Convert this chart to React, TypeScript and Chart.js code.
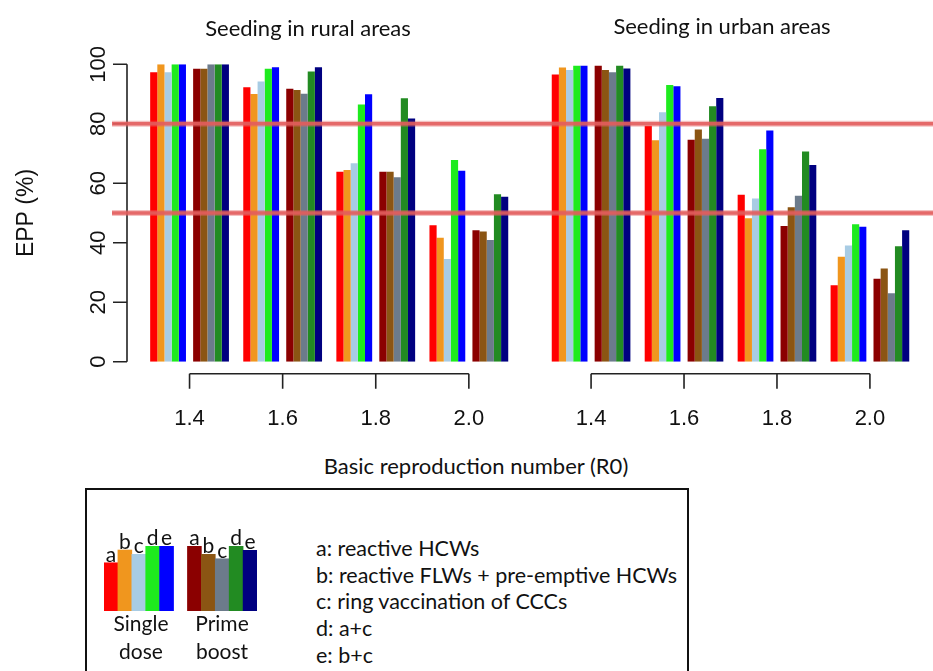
import React, { useEffect, useRef } from "react";
import { Chart, registerables } from "chart.js";
Chart.register(...registerables);

// ---------- data ----------
const r0Labels = ["1.4", "1.6", "1.8", "2.0"];
const yTicks = [0, 20, 40, 60, 80, 100];
const thresholds = [80, 50];
const strategyLetters = ["a", "b", "c", "d", "e"];
const singleColors = ["#FF0000", "#F0961E", "#A8CCE4", "#1EEB1E", "#0000FF"];
const primeColors = ["#8B0000", "#8B5513", "#6C7B8B", "#228B22", "#000080"];

// values per strategy (a..e) across R0 = 1.4, 1.6, 1.8, 2.0
const ruralSingle = [
  [97.3, 92.3, 63.9, 45.9],
  [100, 90.0, 64.5, 41.7],
  [97.3, 94.2, 66.7, 34.5],
  [100, 98.5, 86.5, 67.8],
  [100, 99.0, 89.9, 64.2],
];
const ruralPrime = [
  [98.5, 91.8, 63.9, 44.2],
  [98.5, 91.4, 63.9, 43.8],
  [100, 90.1, 62.0, 40.9],
  [100, 97.6, 88.6, 56.3],
  [100, 99.0, 81.8, 55.5],
];
const urbanSingle = [
  [96.6, 79.3, 56.1, 25.7],
  [98.9, 74.5, 48.2, 35.3],
  [98.1, 83.9, 54.9, 39.1],
  [99.5, 93.0, 71.4, 46.2],
  [99.5, 92.6, 77.7, 45.4],
];
const urbanPrime = [
  [99.5, 74.6, 45.6, 27.9],
  [98.1, 78.1, 51.9, 31.3],
  [97.3, 75.0, 55.8, 23.0],
  [99.5, 85.9, 70.7, 38.8],
  [98.6, 88.7, 66.1, 44.2],
];

// legend miniature bars (relative heights)
const legendSingleHeights = [48, 60.7, 56.4, 64.7, 64.7];
const legendPrimeHeights = [64.7, 56.4, 52, 64.7, 60.4];
const legendDescriptions = [
  "a: reactive HCWs",
  "b: reactive FLWs + pre-emptive HCWs",
  "c: ring vaccination of CCCs",
  "d: a+c",
  "e: b+c",
];

const TICK_FONT = '22px "Liberation Sans", Arial, sans-serif';
const TEXT_FONT = 'Lato, "Open Sans", sans-serif';

function buildDatasets(single: number[][], prime: number[][]) {
  return [
    ...single.map((d, i) => ({
      label: "Single dose " + strategyLetters[i],
      data: d,
      backgroundColor: singleColors[i],
      borderWidth: 0,
    })),
    {
      label: "spacer",
      data: r0Labels.map(() => null),
      backgroundColor: "rgba(0,0,0,0)",
      borderWidth: 0,
    },
    ...prime.map((d, i) => ({
      label: "Prime boost " + strategyLetters[i],
      data: d,
      backgroundColor: primeColors[i],
      borderWidth: 0,
    })),
  ];
}

function BarPanel(props: {
  single: number[][];
  prime: number[][];
  showYAxis: boolean;
  width: number;
  height: number;
  padLeft: number;
  padRight: number;
  redStart: number;
}) {
  const ref = useRef<HTMLCanvasElement | null>(null);
  useEffect(() => {
    const canvas = ref.current;
    if (!canvas) return;
    const axesPlugin = {
      id: "rAxes",
      afterDraw(chart: any) {
        const ctx = chart.ctx as CanvasRenderingContext2D;
        const xs = chart.scales.x;
        const ys = chart.scales.y;
        const area = chart.chartArea;
        ctx.save();
        ctx.strokeStyle = "#222";
        ctx.fillStyle = "#111";
        ctx.lineWidth = 1.6;
        // x axis (R style: from first to last tick)
        const yAx = area.bottom + 12;
        const first = xs.getPixelForTick(0);
        const last = xs.getPixelForTick(r0Labels.length - 1);
        ctx.beginPath();
        ctx.moveTo(first, yAx);
        ctx.lineTo(last, yAx);
        r0Labels.forEach((_, i) => {
          const px = xs.getPixelForTick(i);
          ctx.moveTo(px, yAx);
          ctx.lineTo(px, yAx + 15);
        });
        ctx.stroke();
        ctx.font = TICK_FONT;
        ctx.textAlign = "center";
        ctx.textBaseline = "middle";
        r0Labels.forEach((lab, i) => {
          ctx.fillText(lab, xs.getPixelForTick(i), yAx + 45);
        });
        if (props.showYAxis) {
          const xAx = area.left - 16;
          const top = ys.getPixelForValue(yTicks[yTicks.length - 1]);
          const bot = ys.getPixelForValue(yTicks[0]);
          ctx.beginPath();
          ctx.moveTo(xAx, top);
          ctx.lineTo(xAx, bot);
          yTicks.forEach((v) => {
            const py = ys.getPixelForValue(v);
            ctx.moveTo(xAx, py);
            ctx.lineTo(xAx - 14, py);
          });
          ctx.stroke();
          yTicks.forEach((v) => {
            const py = ys.getPixelForValue(v);
            ctx.save();
            ctx.translate(xAx - 28, py);
            ctx.rotate(-Math.PI / 2);
            ctx.fillText(String(v), 0, 0);
            ctx.restore();
          });
          ctx.save();
          ctx.translate(27, (top + bot) / 2);
          ctx.rotate(-Math.PI / 2);
          ctx.font = '23px "Liberation Sans", Arial, sans-serif';
          ctx.fillText("EPP (%)", 0, 0);
          ctx.restore();
        }
        // threshold lines
        thresholds.forEach((t) => {
          const py = ys.getPixelForValue(t);
          ctx.beginPath();
          ctx.strokeStyle = "rgba(228,100,100,0.4)";
          ctx.lineWidth = 6;
          ctx.moveTo(props.redStart, py);
          ctx.lineTo(chart.width, py);
          ctx.stroke();
          ctx.beginPath();
          ctx.strokeStyle = "rgba(226,92,92,0.88)";
          ctx.lineWidth = 3.5;
          ctx.moveTo(props.redStart, py);
          ctx.lineTo(chart.width, py);
          ctx.stroke();
        });
        ctx.restore();
      },
    };
    const chart = new Chart(canvas, {
      type: "bar",
      data: { labels: r0Labels, datasets: buildDatasets(props.single, props.prime) as any },
      options: {
        responsive: false,
        animation: false,
        layout: {
          padding: { left: props.padLeft, right: props.padRight, top: 64.3, bottom: props.height - 361.7 },
        },
        datasets: { bar: { barPercentage: 1, categoryPercentage: 11 / 13 } },
        plugins: { legend: { display: false }, tooltip: { enabled: false }, title: { display: false } },
        scales: {
          x: { display: false, offset: true },
          y: { display: false, min: 0, max: 100 },
        },
      },
      plugins: [axesPlugin],
    });
    return () => chart.destroy();
  }, []);
  return (
    <canvas
      ref={ref}
      width={props.width}
      height={props.height}
      style={{ width: props.width, height: props.height, display: "block" }}
    />
  );
}

function LegendBars() {
  const ref = useRef<HTMLCanvasElement | null>(null);
  useEffect(() => {
    const canvas = ref.current;
    if (!canvas) return;
    const values = [...legendSingleHeights, null, ...legendPrimeHeights];
    const colors = [...singleColors, "rgba(0,0,0,0)", ...primeColors];
    const letters = [...strategyLetters, "", ...strategyLetters];
    const letterPlugin = {
      id: "letters",
      afterDatasetsDraw(chart: any) {
        const ctx = chart.ctx as CanvasRenderingContext2D;
        const meta = chart.getDatasetMeta(0);
        ctx.save();
        ctx.font = '21px ' + TEXT_FONT;
        ctx.fillStyle = "#111";
        ctx.textAlign = "center";
        ctx.textBaseline = "alphabetic";
        meta.data.forEach((el: any, i: number) => {
          if (!letters[i]) return;
          ctx.fillText(letters[i], el.x, el.y - 1);
        });
        ctx.restore();
      },
    };
    const chart = new Chart(canvas, {
      type: "bar",
      data: {
        labels: values.map((_, i) => String(i)),
        datasets: [{ data: values as any, backgroundColor: colors, borderWidth: 0 }],
      },
      options: {
        responsive: false,
        animation: false,
        layout: { padding: { left: 0, right: 0, top: 24, bottom: 0 } },
        datasets: { bar: { barPercentage: 1, categoryPercentage: 1 } },
        plugins: { legend: { display: false }, tooltip: { enabled: false } },
        scales: { x: { display: false }, y: { display: false, min: 0, max: 64.7 } },
      },
      plugins: [letterPlugin],
    });
    return () => chart.destroy();
  }, []);
  return <canvas ref={ref} width={153} height={89} style={{ width: 153, height: 89, display: "block" }} />;
}

export default function App() {
  const textStyle: React.CSSProperties = {
    position: "absolute",
    fontFamily: TEXT_FONT,
    color: "#111",
    whiteSpace: "nowrap",
  };
  return (
    <div
      style={{
        position: "fixed",
        left: 0,
        top: 0,
        width: 933,
        height: 671,
        background: "#fff",
        overflow: "hidden",
      }}
    >
      <div style={{ position: "absolute", left: 0, top: 0 }}>
        <BarPanel
          single={ruralSingle}
          prime={ruralPrime}
          showYAxis={true}
          width={530}
          height={440}
          padLeft={143}
          padRight={14.6}
          redStart={112}
        />
      </div>
      <div style={{ position: "absolute", left: 530, top: 0 }}>
        <BarPanel
          single={urbanSingle}
          prime={urbanPrime}
          showYAxis={false}
          width={403}
          height={440}
          padLeft={14.6}
          padRight={16.6}
          redStart={0}
        />
      </div>
      <div style={{ ...textStyle, left: 308, top: 14, fontSize: 22, lineHeight: "28px", transform: "translateX(-50%)" }}>
        Seeding in rural areas
      </div>
      <div style={{ ...textStyle, left: 722, top: 12, fontSize: 22, lineHeight: "28px", transform: "translateX(-50%)" }}>
        Seeding in urban areas
      </div>
      <div style={{ ...textStyle, left: 476, top: 452, fontSize: 22, lineHeight: "28px", transform: "translateX(-50%)" }}>
        Basic reproduction number (R0)
      </div>
      <div
        style={{
          position: "absolute",
          left: 85,
          top: 488,
          width: 604,
          height: 220,
          border: "2px solid #111",
          boxSizing: "border-box",
        }}
      />
      <div style={{ position: "absolute", left: 104, top: 522 }}>
        <LegendBars />
      </div>
      <div style={{ ...textStyle, left: 141, top: 609, fontSize: 21, lineHeight: "28px", textAlign: "center", transform: "translateX(-50%)" }}>
        Single<br />dose
      </div>
      <div style={{ ...textStyle, left: 222, top: 609, fontSize: 21, lineHeight: "28px", textAlign: "center", transform: "translateX(-50%)" }}>
        Prime<br />boost
      </div>
      {legendDescriptions.map((t, i) => (
        <div key={t} style={{ ...textStyle, left: 316, top: 535 + i * 26.7, fontSize: 21.5, lineHeight: "26px" }}>
          {t}
        </div>
      ))}
    </div>
  );
}
